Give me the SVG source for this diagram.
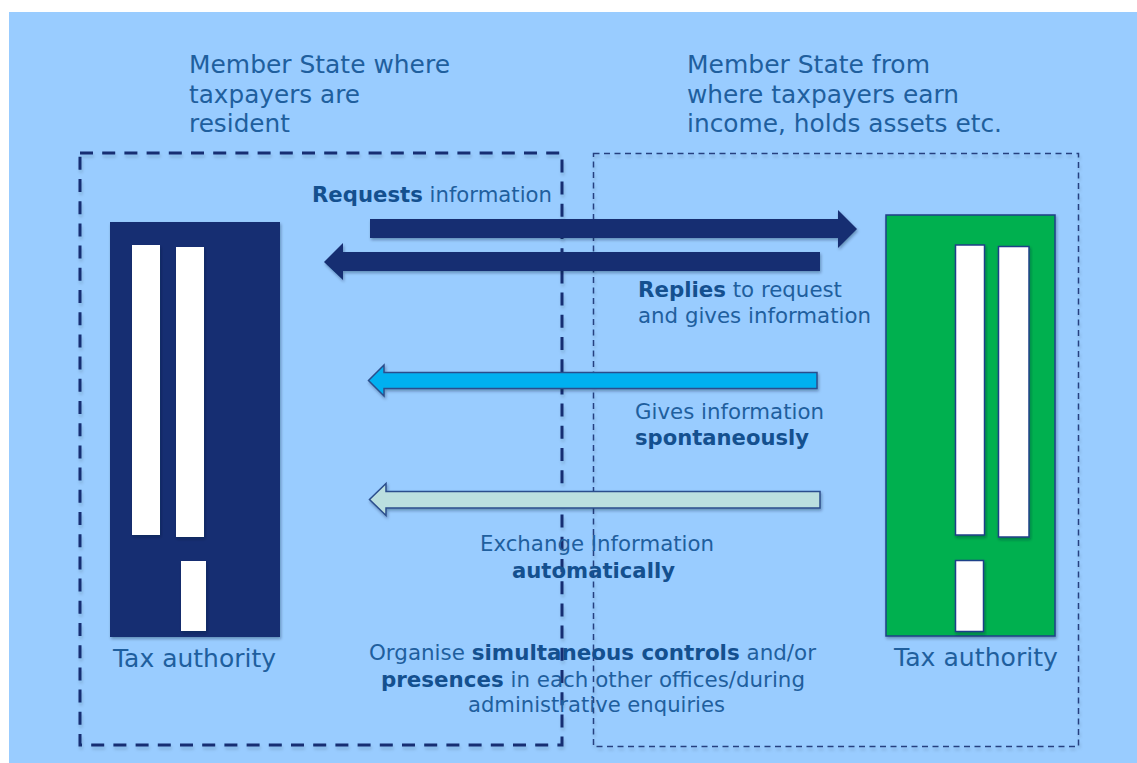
<svg xmlns="http://www.w3.org/2000/svg" width="1137" height="763" viewBox="0 0 1137 763">
<style>
text{font-family:"DejaVu Sans","Liberation Sans",sans-serif;fill:#1f5f9e}
.h{font-size:25px}
.s{font-size:21px}
.b{font-weight:700;fill:#14508f}
.shadow{filter:url(#sh)}
.soft{filter:url(#sf)}
.bar{fill:#fff}
.gbar{fill:#fff;stroke:#1f3f88;stroke-width:1.5}
.arrow{stroke:#2b4d8c;stroke-width:1.5}
</style>
<defs>
<filter id="sh" x="-10%" y="-30%" width="120%" height="170%"><feDropShadow dx="1" dy="2" stdDeviation="1.5" flood-color="#123" flood-opacity=".35"/></filter>
<filter id="sf" x="-5%" y="-5%" width="110%" height="110%"><feDropShadow dx="1" dy="3" stdDeviation="1.5" flood-color="#123" flood-opacity=".15"/></filter>
</defs>
<rect width="1137" height="763" fill="#fff"/>
<rect x="9" y="12" width="1128" height="751" fill="#99ccff"/>
<g id="region-left">
<rect x="80" y="153" width="482" height="592" fill="none" stroke="#132f72" stroke-width="3" stroke-dasharray="13 9.200" class="soft"/>
<text class="h" x="189" y="73" textLength="261" lengthAdjust="spacingAndGlyphs">Member State where</text>
<text class="h" x="189" y="103" textLength="171" lengthAdjust="spacingAndGlyphs">taxpayers are</text>
<text class="h" x="189" y="132" textLength="101" lengthAdjust="spacingAndGlyphs">resident</text>
</g>
<g id="region-right">
<rect x="593.500" y="153.500" width="485" height="593" fill="none" stroke="#26417f" stroke-width="1.500" stroke-dasharray="6 4.500" class="soft"/>
<text class="h" x="687" y="73" textLength="243" lengthAdjust="spacingAndGlyphs">Member State from</text>
<text class="h" x="687" y="103" textLength="272" lengthAdjust="spacingAndGlyphs">where taxpayers earn</text>
<text class="h" x="687" y="132" textLength="315" lengthAdjust="spacingAndGlyphs">income, holds assets etc.</text>
</g>
<g id="authority-left">
<rect x="110" y="222" width="170" height="415" fill="#132f72" class="shadow"/>
<rect class="bar shadow" x="132" y="245" width="28" height="290"/>
<rect class="bar shadow" x="176" y="247" width="28" height="290"/>
<rect class="bar shadow" x="181" y="561" width="25" height="70"/>
<text class="h" x="113" y="667" textLength="163" lengthAdjust="spacingAndGlyphs">Tax authority</text>
</g>
<g id="authority-right">
<rect x="886" y="215" width="169" height="421" fill="#00b050" stroke="#1f3f88" stroke-width="1.500" class="shadow"/>
<rect class="gbar shadow" x="955.500" y="245" width="29" height="290"/>
<rect class="gbar shadow" x="998.500" y="246.500" width="30.500" height="290.500"/>
<rect class="gbar shadow" x="955.500" y="560.500" width="28" height="71"/>
<text class="h" x="894" y="666" textLength="164" lengthAdjust="spacingAndGlyphs">Tax authority</text>
</g>
<g id="connectors">
<polygon class="shadow" fill="#132f72" points="370,219 838,219 838,210 857,229 838,248 838,238 370,238"/>
<polygon class="shadow" fill="#132f72" points="820,252 343,252 343,243 324,262 343,280 343,271 820,271"/>
<polygon class="arrow shadow" fill="#00b0f0" points="817,372.500 384,372.500 384,365 368.500,380.500 384,396 384,388.500 817,388.500"/>
<polygon class="arrow shadow" fill="#bbdfdf" points="820,491.500 386,491.500 386,483.500 369.500,499.500 386,515.500 386,508 820,508"/>
</g>
<g id="labels">
<text class="s" x="312" y="202" textLength="240" lengthAdjust="spacingAndGlyphs"><tspan class="b">Requests</tspan> information</text>
<text class="s" x="638" y="297" textLength="204" lengthAdjust="spacingAndGlyphs"><tspan class="b">Replies</tspan> to request</text>
<text class="s" x="638" y="323" textLength="233" lengthAdjust="spacingAndGlyphs">and gives information</text>
<text class="s" x="635" y="419" textLength="189" lengthAdjust="spacingAndGlyphs">Gives information</text>
<text class="s b" x="635" y="445" textLength="174" lengthAdjust="spacingAndGlyphs">spontaneously</text>
<text class="s" x="480" y="551" textLength="234" lengthAdjust="spacingAndGlyphs">Exchange Information</text>
<text class="s b" x="512" y="578" textLength="163" lengthAdjust="spacingAndGlyphs">automatically</text>
<text class="s" x="369" y="660" textLength="447" lengthAdjust="spacingAndGlyphs">Organise <tspan class="b">simultaneous controls</tspan> and/or</text>
<text class="s" x="381" y="687" textLength="424" lengthAdjust="spacingAndGlyphs"><tspan class="b">presences</tspan> in each other offices/during</text>
<text class="s" x="468" y="712" textLength="257" lengthAdjust="spacingAndGlyphs">administrative enquiries</text>
</g>
</svg>
